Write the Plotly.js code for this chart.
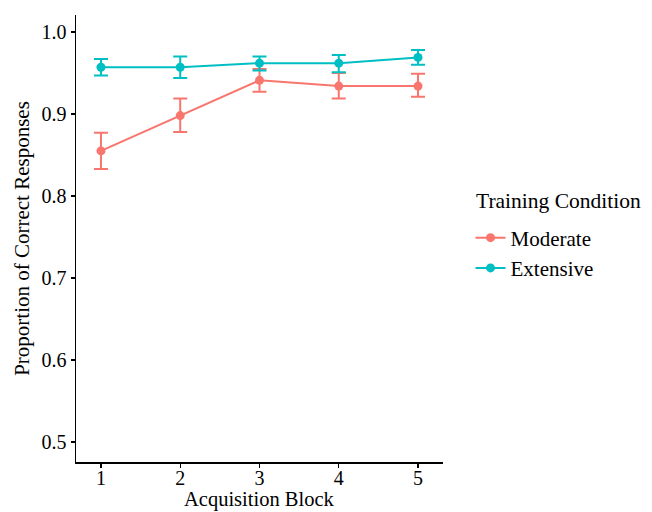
<!DOCTYPE html>
<html>
<head>
<meta charset="utf-8">
<script src="https://cdn.plot.ly/plotly-3.0.1.min.js"></script>
<style>html,body{margin:0;padding:0;background:#fff;}#chart{width:652px;height:512px;}</style>
</head>
<body>
<div id="chart"></div>
<script>
const blocks = [1, 2, 3, 4, 5];
const moderateMean = [0.855, 0.898, 0.941, 0.934, 0.934];
const moderateUpper = [0.877, 0.919, 0.955, 0.950, 0.949];
const moderateLower = [0.833, 0.878, 0.927, 0.919, 0.921];
const extensiveMean = [0.957, 0.957, 0.962, 0.962, 0.969];
const extensiveUpper = [0.967, 0.970, 0.970, 0.972, 0.978];
const extensiveLower = [0.947, 0.944, 0.953, 0.951, 0.960];
const yTicks = [0.5, 0.6, 0.7, 0.8, 0.9, 1.0];
const yTickLabels = ["0.5", "0.6", "0.7", "0.8", "0.9", "1.0"];
const legendTitle = 'Training Condition';
const xTitle = 'Acquisition Block';
const yTitle = 'Proportion of Correct Responses';

function series(name, mean, upper, lower, color) {
  return {
    x: blocks, y: mean, name: name, type: 'scatter', mode: 'lines+markers',
    line: {color: color, width: 2},
    marker: {color: color, size: 9},
    error_y: {type: 'data', symmetric: false,
      array: upper.map((u, i) => u - mean[i]),
      arrayminus: mean.map((m, i) => m - lower[i]),
      color: color, thickness: 2, width: 7}
  };
}

const data = [
  series('Moderate', moderateMean, moderateUpper, moderateLower, '#F8766D'),
  series('Extensive', extensiveMean, extensiveUpper, extensiveLower, '#00BFC4')
];

const fam = 'Liberation Serif, Times New Roman, serif';
const f = (s) => ({family: fam, size: s, color: '#000'});
const layout = {
  width: 652, height: 512,
  margin: {l: 76, r: 209, t: 15, b: 50},
  paper_bgcolor: '#fff', plot_bgcolor: '#fff',
  font: f(20),
  showlegend: true,
  legend: {
    x: 1.075, y: 0.547, xanchor: 'left', yanchor: 'top',
    font: f(21),
    tracegroupgap: 6,
    itemwidth: 30
  },
  annotations: [{
    text: legendTitle, xref: 'paper', yref: 'paper',
    x: 1.0845, y: 0.584, xanchor: 'left', yanchor: 'middle',
    showarrow: false, font: f(21.5)
  }, {
    text: xTitle, xref: 'paper', yref: 'paper',
    x: 0.5, y: -0.0828, xanchor: 'center', yanchor: 'middle',
    showarrow: false, borderpad: 0, font: f(20.5)
  }],
  xaxis: {
    range: [0.685, 5.315], tickvals: blocks, ticktext: blocks.map(String),
    showgrid: false, zeroline: false,
    showline: true, linecolor: '#000', linewidth: 1.5,
    ticks: 'outside', ticklen: 4, tickwidth: 1.2, tickcolor: '#000',
    tickfont: f(20), ticklabelstandoff: -7,
    automargin: false
  },
  yaxis: {
    range: [0.4756, 1.0207], tickvals: yTicks, ticktext: yTickLabels,
    showgrid: false, zeroline: false,
    showline: true, linecolor: '#000', linewidth: 1.5,
    ticks: 'outside', ticklen: 4, tickwidth: 1.2, tickcolor: '#000',
    tickfont: f(20),
    title: {text: yTitle, font: f(21), standoff: 6}
  }
};

Plotly.newPlot('chart', data, layout, {displayModeBar: false, staticPlot: true});
</script>
</body>
</html>
